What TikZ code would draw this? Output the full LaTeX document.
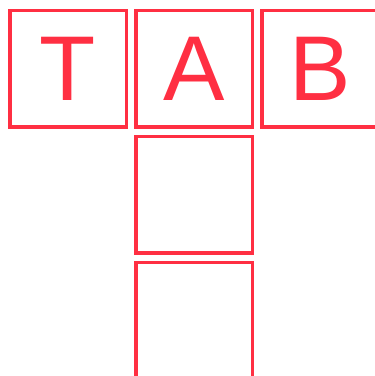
\documentclass[tikz,border=0pt]{standalone}
\usepackage{fontspec}
\setmainfont{Liberation Sans}
\usepackage{xcolor}
\definecolor{tabred}{HTML}{FF2F42}

\tikzset{
  tabcell/.style={draw=tabred,line width=3.5pt,minimum size=116.5pt,inner sep=0pt,
    text=tabred,font=\fontsize{92}{92}\selectfont},
}

\begin{document}
\begin{tikzpicture}[x=1pt,y=1pt]
  \useasboundingbox (0,0) rectangle (375,376);
  \clip (0,0) rectangle (375,376);
  % top row
  \node[tabcell] (cellT) at (68,307) {T};
  \node[tabcell] (cellA) at (194,307) {A};
  \node[tabcell] (cellB) at (320,307) {B};
  % column below A
  \node[tabcell] (cellMid) at (194,181) {};
  \node[tabcell] (cellLow) at (194,55) {};
\end{tikzpicture}
\end{document}
